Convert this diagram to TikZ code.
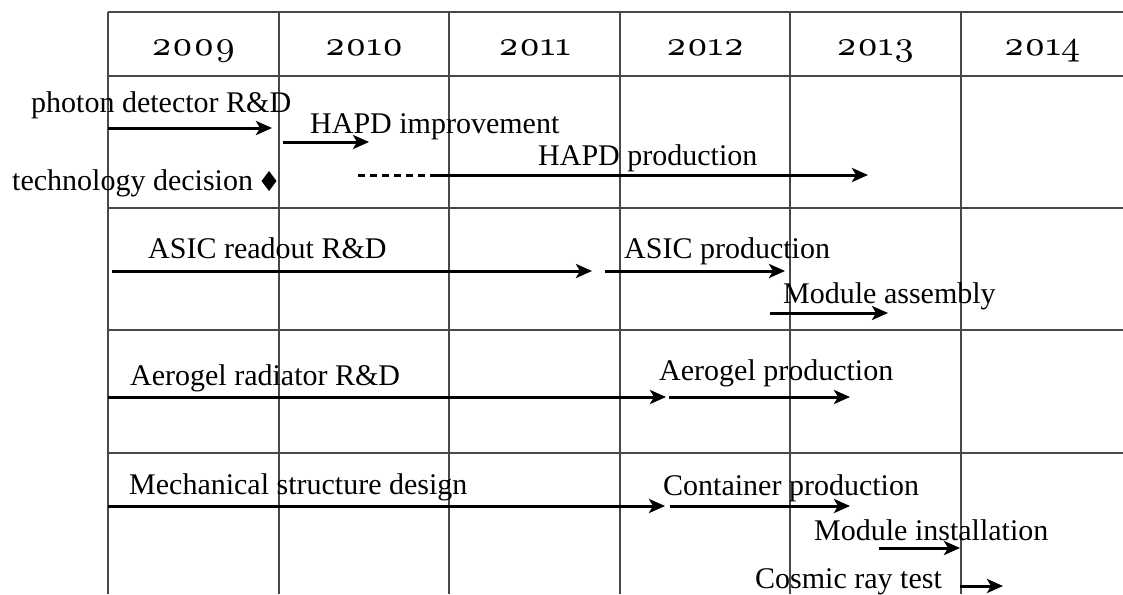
\documentclass[tikz,border=0pt]{standalone}
\usepackage{fontspec}
\setmainfont{Liberation Serif}
\newfontfamily\yearfont{lmroman7-regular}[Extension=.otf,Numbers=OldStyle]
\usetikzlibrary{arrows.meta,positioning}
\definecolor{gridgray}{RGB}{72,72,72}
\tikzset{
  gridline/.style={gridgray, line width=1.4pt},
  task/.style={line width=3pt, -{Stealth[length=16pt,width=14pt,inset=4pt]}},
  lbl/.style={anchor=base west, inner sep=0pt, font=\fontsize{30}{32}\selectfont},
  yr/.style={anchor=base, inner sep=0pt, font=\yearfont\fontsize{34}{38}\selectfont},
}

\begin{document}
\begin{tikzpicture}[x=1pt, y=-1pt]
  \useasboundingbox (0,0) rectangle (1123,594);
  % grid
  \foreach \x in {108,279,449,620,790,961}
    \draw[gridline] (\x,12) -- (\x,594);
  \foreach \y in {12,76,208,330,453}
    \draw[gridline] (108,\y) -- (1123,\y);
  % years
  \foreach \yr/\x in {2009/193.5,2010/364,2011/534.5,2012/705,2013/875.5,2014/1042}
    \node[yr] (y\yr) at (\x,56) {\yr};
  % labels
  \node[lbl] (pdrd)  at (31,112)  {photon detector R\&D};
  \node[lbl] (himp)  at (310,133) {HAPD improvement};
  \node[lbl] (tdec)  at (12,190)  {technology decision};
  \node[lbl] (hprod) at (538,165) {HAPD production};
  \node[lbl] (asrd)  at (148,258) {ASIC readout R\&D};
  \node[lbl] (asprd) at (624,258) {ASIC production};
  \node[lbl] (modas) at (783,303) {Module assembly};
  \node[lbl] (aerd)  at (130,385) {Aerogel radiator R\&D};
  \node[lbl] (aeprd) at (659,380) {Aerogel production};
  \node[lbl] (mech)  at (129,494) {Mechanical structure design};
  \node[lbl] (cont)  at (663,495) {Container production};
  \node[lbl] (modin) at (814,540) {Module installation};
  \node[lbl] (cosm)  at (755,588) {Cosmic ray test};
  % milestone
  \fill (261.5,181) -- (269,171) -- (276.5,181) -- (269,191) -- cycle;
  % tasks
  \foreach \n/\xa/\xb/\y in {pd/108/272/128, hi/283/369/142, hp/433/868/175,
      ar/112/592/271, ap/605/785/271, ma/770/888/313,
      gr/108/666/397, gp/669/850/397, ms/108/665/506, cp/670/850/506,
      mi/879/960/548, ct/960/1003/586}{
    \coordinate (\n S) at (\xa,\y);
    \coordinate (\n E) at (\xb,\y);
    \draw[task] (\n S) -- (\n E);
  }
  \coordinate (hpD) at (358,175);
  \draw[line width=3pt, dash pattern=on 7pt off 5pt] (hpD) -- (hpS);
\end{tikzpicture}
\end{document}
